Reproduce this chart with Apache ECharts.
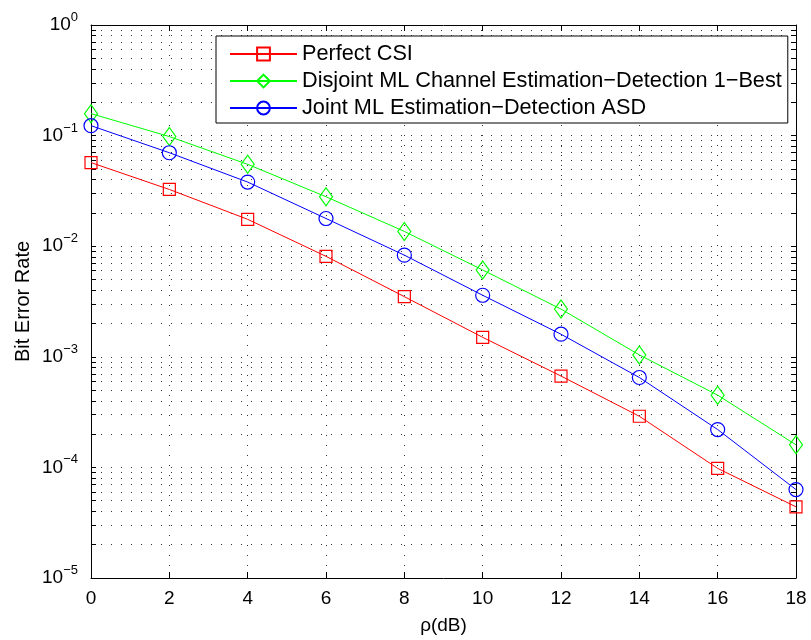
<!DOCTYPE html>
<html><head><meta charset="utf-8">
<script src="https://cdn.jsdelivr.net/npm/echarts@6/dist/echarts.min.js"></script>
<style>html,body{margin:0;padding:0;background:#fff}#c{width:811px;height:640px}</style>
</head><body><div id="c"></div>
<script>
// ---- data ----
const snrDb = [0, 2, 4, 6, 8, 10, 12, 14, 16, 18];
const berPerfect = [0.057, 0.0326, 0.0175, 0.0081, 0.0035, 0.0015, 6.7e-4, 2.9e-4, 9.8e-5, 4.4e-5];
const berDisjoint = [0.158, 0.098, 0.055, 0.028, 0.0136, 0.0061, 0.0027, 0.00104, 4.5e-4, 1.6e-4];
const berJoint = [0.123, 0.070, 0.038, 0.0178, 0.0083, 0.0036, 0.0016, 6.5e-4, 2.2e-4, 6.3e-5];
const seriesNames = ['Perfect CSI', 'Disjoint ML Channel Estimation\u2212Detection 1\u2212Best', 'Joint ML Estimation\u2212Detection ASD'];
const yExponents = [-5, -4, -3, -2, -1, 0];
const xLabel = '\u03c1(dB)';
const yLabel = 'Bit Error Rate';

// ---- build ----
const FONT = 'Liberation Sans, Arial, Helvetica, sans-serif';
const logTicks = [];
yExponents.forEach(e => {
  if (e === 0) { logTicks.push(1); return; }
  for (let m = 1; m <= 9; m++) logTicks.push(parseFloat((m * Math.pow(10, e)).toPrecision(6)));
});
const gridDot = { color: '#333', width: 1, type: [1, 9] };

function mk(name, vals, color, symbol, size) {
  return {
    type: 'line', name: name,
    data: snrDb.map((x, i) => [x, vals[i]]),
    symbol: symbol, symbolSize: size, showSymbol: true,
    lineStyle: { color: color, width: 1 },
    itemStyle: { color: 'rgba(255,255,255,0)', borderColor: color, borderWidth: 1.2 },
    emphasis: { disabled: true }, silent: true, z: 5
  };
}

const chart = echarts.init(document.getElementById('c'), null, { renderer: 'canvas' });
chart.setOption({
  backgroundColor: '#fff',
  animation: false,
  grid: { left: 91, top: 25, right: 15, bottom: 60, containLabel: false },
  xAxis: [{
    type: 'value', min: 0, max: 18, interval: 2, position: 'bottom',
    name: xLabel, nameLocation: 'middle', nameGap: 38, nameMoveOverlap: false,
    nameTextStyle: { fontSize: 19, color: '#000', fontFamily: FONT },
    axisLine: { show: true, onZero: false, lineStyle: { color: '#000', width: 1 } },
    axisTick: { show: true, inside: true, length: 6, lineStyle: { color: '#000' } },
    axisLabel: { fontSize: 19, color: '#000', fontFamily: FONT, margin: 11 },
    splitLine: { show: true, lineStyle: gridDot }
  }, {
    type: 'value', min: 0, max: 18, interval: 2, position: 'top',
    axisLine: { show: true, onZero: false, lineStyle: { color: '#000', width: 1 } },
    axisTick: { show: true, inside: true, length: 6, lineStyle: { color: '#000' } },
    axisLabel: { show: false }, splitLine: { show: false }
  }],
  yAxis: [{
    type: 'log', logBase: 10, min: 1e-5, max: 1, position: 'left',
    name: yLabel, nameLocation: 'middle', nameGap: 58, nameRotate: 90, nameMoveOverlap: false,
    nameTextStyle: { fontSize: 20, color: '#000', fontFamily: FONT },
    axisLine: { show: true, onZero: false, lineStyle: { color: '#000', width: 1 } },
    axisTick: { show: true, inside: true, length: 5, customValues: logTicks, lineStyle: { color: '#000' } },
    axisLabel: {
      fontFamily: FONT, color: '#000', margin: 13,
      formatter: v => {
        const e = Math.round(Math.log10(v));
        return '{b|10}{e|' + (e < 0 ? '\u2212' + (-e) : e) + '}';
      },
      rich: {
        b: { fontSize: 19, fontFamily: FONT, color: '#000' },
        e: { fontSize: 13, fontFamily: FONT, color: '#000', padding: [0, 0, 15, 0] }
      }
    },
    splitLine: { show: true, lineStyle: gridDot }
  }, {
    type: 'log', logBase: 10, min: 1e-5, max: 1, position: 'right',
    axisLine: { show: true, onZero: false, lineStyle: { color: '#000', width: 1 } },
    axisTick: { show: true, inside: true, length: 5, customValues: logTicks, lineStyle: { color: '#000' } },
    axisLabel: { show: false }, splitLine: { show: false }
  }],
  legend: {
    orient: 'vertical', left: 216, top: 36,
    itemWidth: 67, itemHeight: 16, itemGap: 5,
    padding: [7, 6, 4, 13],
    borderColor: '#000', borderWidth: 1, backgroundColor: '#fff',
    textStyle: { fontSize: 21.7, color: '#000', fontFamily: FONT },
    selectedMode: false, z: 10,
    data: seriesNames
  },
  series: [
    mk(seriesNames[0], berPerfect, '#ff0000', 'rect', 12),
    mk(seriesNames[1], berDisjoint, '#00ff00', 'diamond', [13, 18]),
    mk(seriesNames[2], berJoint, '#0000ff', 'circle', 14)
  ]
});
</script></body></html>
